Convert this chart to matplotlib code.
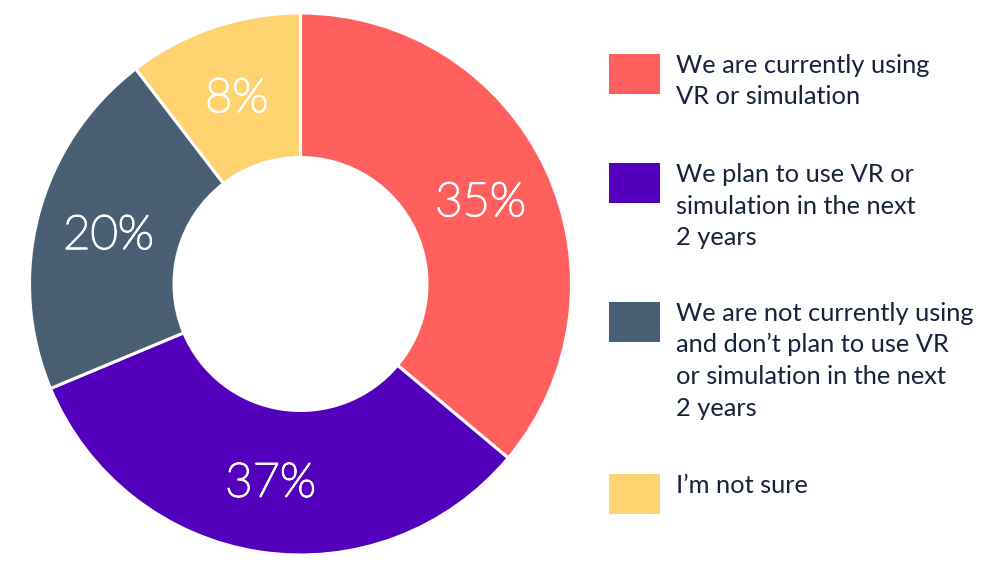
import numpy as np
import matplotlib.pyplot as plt
import matplotlib.patheffects as pe
from matplotlib.patches import Rectangle

''' data '''
categories = ['We are currently using\nVR or simulation',
              'We plan to use VR or\nsimulation in the next\n2 years',
              'We are not currently using\nand don\u2019t plan to use VR\nor simulation in the next\n2 years',
              'I\u2019m not sure']
label_values = [35, 37, 20, 8]  # printed percentages
wedge_sizes = [36.1, 32.6, 20.9, 10.4]  # share of the ring as drawn
colors = ['#FF5F5D', '#5200BC', '#4A5F73', '#FFD370']

W, H = 1001, 563
cx, cy, r_out, r_in = 300.5, 284, 271, 126.5
text_col = '#16213B'
font = ['Lato', 'DejaVu Sans']

fig = plt.figure(figsize=(W / 100, H / 100), dpi=100)

''' donut '''
ax = fig.add_axes([(cx - r_out) / W, (H - cy - r_out) / H, 2 * r_out / W, 2 * r_out / H])
wedges, _ = ax.pie(wedge_sizes, colors=colors, startangle=90, counterclock=False,
                   radius=1, wedgeprops=dict(width=1 - r_in / r_out,
                                             edgecolor='white', linewidth=2.2))
ax.set_xlim(-1, 1)
ax.set_ylim(-1, 1)

for w, v in zip(wedges, label_values):
    ang = np.deg2rad((w.theta1 + w.theta2) / 2)
    rm = w.r - w.width / 2
    ax.text(rm * np.cos(ang), rm * np.sin(ang) - 16 / r_out, f'{v}%',
            ha='center', va='baseline', fontsize=34, color='white',
            family=font, fontweight='light',
            path_effects=[pe.withStroke(linewidth=1.3, foreground='white')])

''' legend '''
ax2 = fig.add_axes([0, 0, 1, 1])
ax2.set_xlim(0, W)
ax2.set_ylim(H, 0)
ax2.axis('off')

square_tops = [54, 163, 302, 474]
for top, c, lab in zip(square_tops, colors, categories):
    ax2.add_patch(Rectangle((609, top), 51, 40, color=c, lw=0))
    for k, line in enumerate(lab.split('\n')):
        ax2.text(676, top + 19 + k * 31.5, line, ha='left', va='baseline',
                 fontsize=18.3, color=text_col, family=font, fontweight='normal')

fig.savefig('out.png', dpi=100)
